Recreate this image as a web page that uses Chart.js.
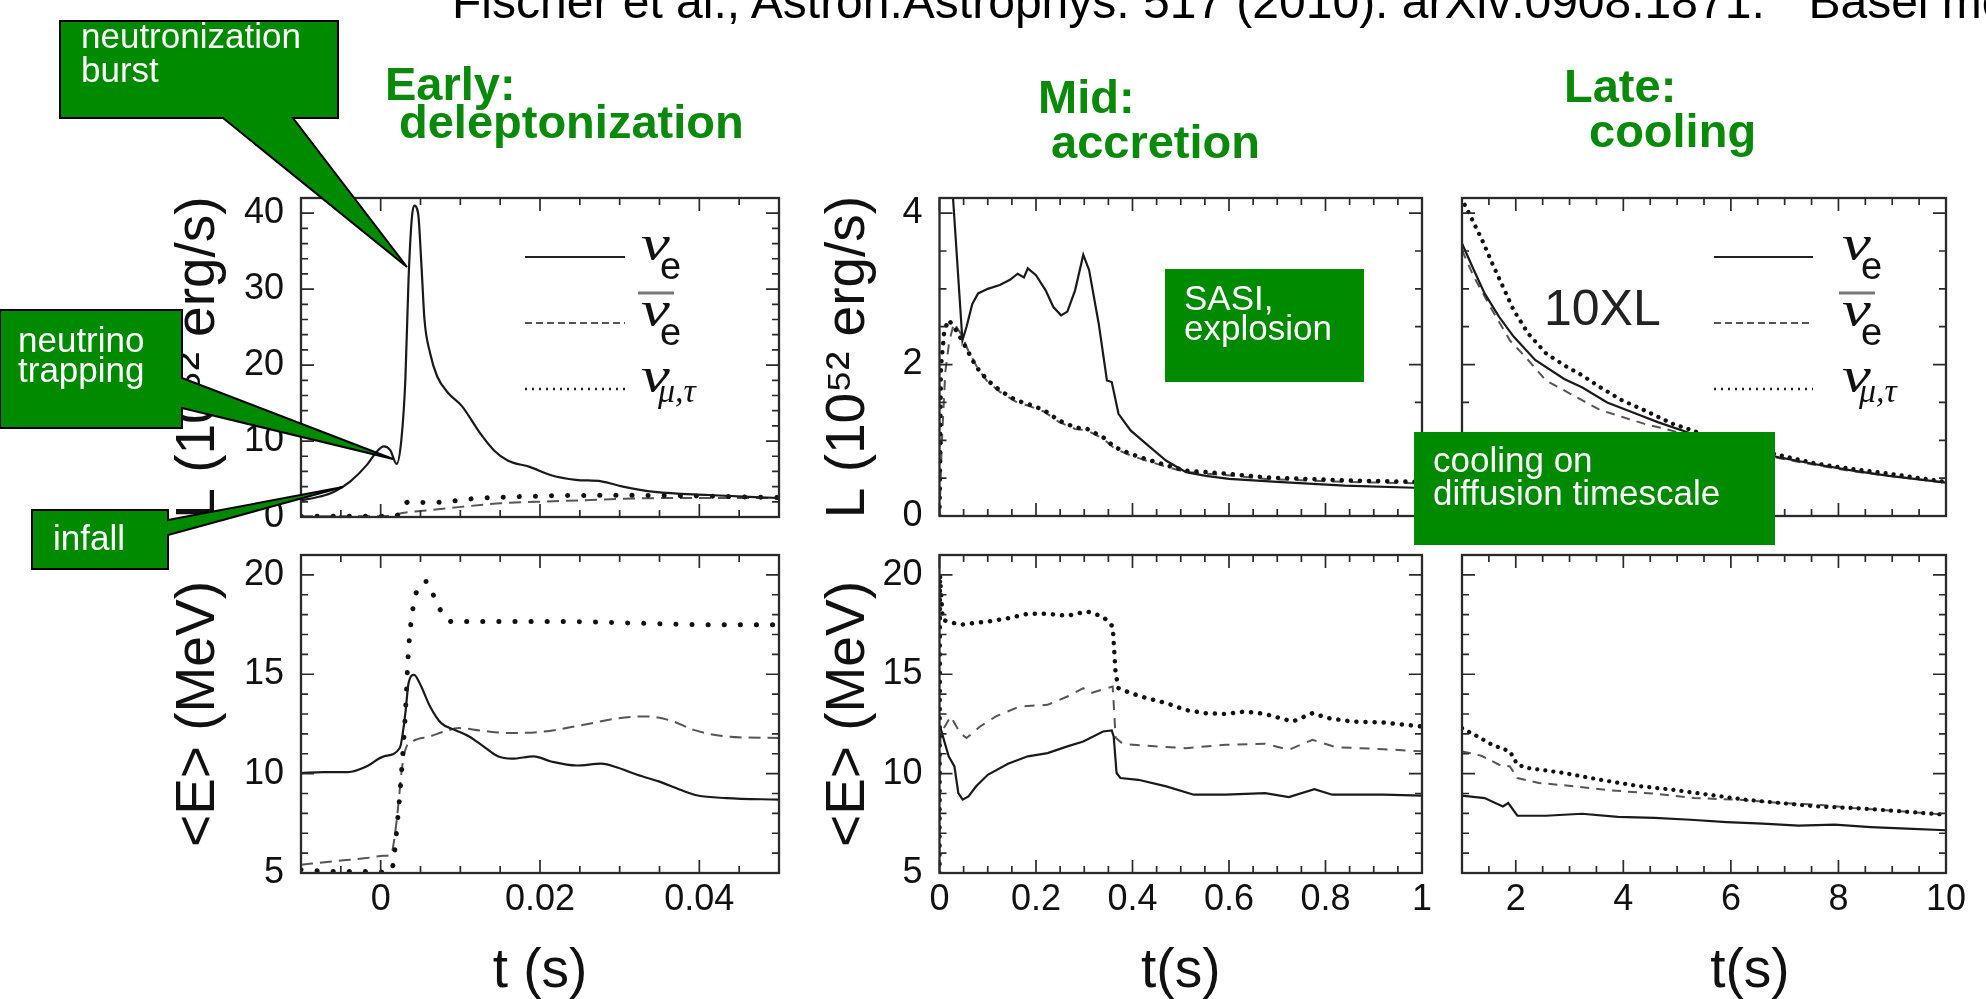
<!DOCTYPE html>
<html>
<head>
<meta charset="utf-8">
<script src="https://cdn.jsdelivr.net/npm/chart.js@4.4.1/dist/chart.umd.min.js"></script>
<style>
  html, body { margin: 0; padding: 0; background: #fff; }
  body { width: 1986px; height: 999px; position: relative; overflow: hidden; }
  canvas { position: absolute; }
  svg { position: absolute; left: 0; top: 0; z-index: 5; }
  .cw { font-family: "Liberation Sans", Arial, sans-serif; font-size: 35px; fill: #fff; }
  .gt { font-family: "Liberation Sans", Arial, sans-serif; font-size: 47px; font-weight: bold; fill: #0a8a0a; }
</style>
</head>
<body>
<canvas id="earlyL"></canvas>
<canvas id="earlyE"></canvas>
<canvas id="midL"></canvas>
<canvas id="midE"></canvas>
<canvas id="lateL"></canvas>
<canvas id="lateE"></canvas>

<svg width="1986" height="999" viewBox="0 0 1986 999">
  <text x="452" y="18" font-family="Liberation Sans, Arial, sans-serif" font-size="48" fill="#000">Fischer et al., Astron.Astrophys. 517 (2010). arXiv:0908.1871. &#160;"Basel model"</text>

  <text class="gt" x="385" y="100">Early:</text>
  <text class="gt" x="399" y="138">deleptonization</text>
  <text class="gt" x="1038" y="113">Mid:</text>
  <text class="gt" x="1051" y="158">accretion</text>
  <text class="gt" x="1564" y="102">Late:</text>
  <text class="gt" x="1589" y="147">cooling</text>

  <!-- callouts -->
  <polygon points="60,21 338,21 338,118 293,118 407,267 223,118 60,118" fill="#008a00" stroke="#000" stroke-width="2"/>
  <text class="cw" x="81" y="48">neutronization</text>
  <text class="cw" x="81" y="82">burst</text>

  <polygon points="0,310 182,310 182,378 393,459 182,408 182,428 0,428" fill="#008a00" stroke="#000" stroke-width="2"/>
  <text class="cw" x="18" y="352">neutrino</text>
  <text class="cw" x="18" y="382">trapping</text>

  <polygon points="32,510 168,510 168,520 343,487 168,535 168,569 32,569" fill="#008a00" stroke="#000" stroke-width="2"/>
  <text class="cw" x="53" y="550">infall</text>

  <rect x="1165" y="269" width="199" height="113" fill="#008a00"/>
  <text class="cw" x="1184" y="310">SASI,</text>
  <text class="cw" x="1184" y="340">explosion</text>

  <rect x="1414" y="432" width="361" height="113" fill="#008a00"/>
  <text class="cw" x="1433" y="472">cooling on</text>
  <text class="cw" x="1433" y="505">diffusion timescale</text>

  <text x="1544" y="325" font-family="Liberation Sans, Arial, sans-serif" font-size="50" fill="#222">10XL</text>
</svg>

<script>
var FONT = '"Liberation Sans", Arial, sans-serif';

// ---- tick labels ----
var earlyTimeTicks = [0, 0.02, 0.04];
var midTimeTicks = [0, 0.2, 0.4, 0.6, 0.8, 1];
var lateTimeTicks = [2, 4, 6, 8, 10];
var earlyLumTicks = [0, 10, 20, 30, 40];
var midLumTicks = [0, 2, 4];
var energyTicks = [5, 10, 15, 20];

// ---- values: [t (s), value] ----
// early phase, luminosity (10^52 erg/s)
var earlyL_nue = [[-0.01,2.2],[-0.0076,2.7],[-0.0059,3.3],[-0.0038,4.7],[-0.0017,6.9],[-0.0005,8.6],[0.0004,9.3],[0.0012,8.8],[0.002,7.0],[0.0026,10.2],[0.0031,18.1],[0.0035,31.3],[0.0039,39.2],[0.0042,41.0],[0.0047,40.0],[0.0051,33.5],[0.0055,26.0],[0.0062,21.6],[0.0071,18.5],[0.0085,16.3],[0.0102,14.6],[0.0125,11.0],[0.0142,8.8],[0.016,7.4],[0.0187,6.6],[0.0214,5.5],[0.0245,4.9],[0.0277,4.7],[0.0304,4.0],[0.0344,3.3],[0.0411,2.9],[0.05,2.5]];
var earlyL_nuebar = [[-0.01,0.1],[0.0,0.1],[0.0015,0.15],[0.0022,0.4],[0.004,0.7],[0.0062,0.9],[0.0098,1.3],[0.015,1.8],[0.0196,2.0],[0.0255,2.2],[0.032,2.45],[0.041,2.5],[0.05,2.5]];
var earlyL_numu = [[-0.01,0.1],[0.0015,0.1],[0.0025,0.6],[0.003,1.6],[0.0035,2.0],[0.0055,1.9],[0.008,2.0],[0.0098,2.2],[0.012,2.45],[0.015,2.6],[0.018,2.7],[0.022,2.8],[0.027,2.85],[0.032,2.85],[0.037,2.8],[0.043,2.7],[0.05,2.55]];

// early phase, mean energy (MeV)
var earlyE_nue = [[-0.01,10.03],[-0.0072,10.08],[-0.0041,10.08],[-0.0018,10.36],[0.0004,10.87],[0.0024,11.29],[0.0031,13.04],[0.0035,14.55],[0.0042,14.97],[0.0049,14.55],[0.0062,13.38],[0.0076,12.54],[0.0093,12.2],[0.0111,11.87],[0.0129,11.37],[0.0147,10.87],[0.0165,10.75],[0.0192,10.87],[0.0214,10.61],[0.0246,10.41],[0.0277,10.5],[0.0299,10.28],[0.0322,9.94],[0.0349,9.61],[0.0376,9.19],[0.0398,8.9],[0.0434,8.77],[0.05,8.69]];
var earlyE_nuebar = [[-0.01,5.42],[-0.0059,5.59],[-0.0018,5.75],[0.0004,5.87],[0.0013,5.92],[0.0017,6.68],[0.0022,8.35],[0.0026,10.03],[0.0031,11.2],[0.004,11.62],[0.0062,11.87],[0.008,12.12],[0.0098,12.29],[0.0125,12.17],[0.0161,12.04],[0.0205,12.12],[0.0255,12.46],[0.0299,12.79],[0.0335,12.88],[0.0367,12.63],[0.0393,12.2],[0.0434,11.87],[0.05,11.79]];
var earlyE_numu = [[-0.01,5.17],[-0.006,5.08],[-0.003,5.08],[0.0012,5.05],[0.0015,5.3],[0.0022,8.0],[0.0026,10.0],[0.0031,13.04],[0.0035,16.23],[0.0042,18.66],[0.005,19.5],[0.0058,19.67],[0.0067,18.91],[0.0076,18.16],[0.0089,17.65],[0.0143,17.65],[0.0232,17.65],[0.0322,17.57],[0.0411,17.49],[0.05,17.49]];

// accretion phase, luminosity
var midL_nue = [[0,20],[0.027,4.3],[0.0475,2.32],[0.056,2.5],[0.068,2.8],[0.08,2.94],[0.1,3.0],[0.125,3.05],[0.146,3.12],[0.162,3.2],[0.175,3.15],[0.183,3.27],[0.2,3.18],[0.22,2.98],[0.236,2.76],[0.252,2.65],[0.265,2.7],[0.281,2.98],[0.298,3.45],[0.31,3.25],[0.33,2.54],[0.347,1.79],[0.357,1.77],[0.371,1.35],[0.396,1.13],[0.429,0.95],[0.47,0.73],[0.511,0.58],[0.552,0.53],[0.6,0.49],[0.7,0.45],[0.84,0.4],[1.0,0.37]];
var midL_nuebar = [[0,0],[0.005,1.0],[0.012,1.9],[0.02,2.3],[0.03,2.55],[0.045,2.4],[0.06,2.18],[0.08,1.94],[0.1,1.77],[0.125,1.64],[0.158,1.51],[0.183,1.46],[0.216,1.38],[0.248,1.24],[0.281,1.15],[0.306,1.13],[0.339,1.02],[0.363,0.89],[0.396,0.8],[0.429,0.73],[0.47,0.65],[0.51,0.58],[0.593,0.54],[0.675,0.49],[0.757,0.47],[0.839,0.45],[1.0,0.43]];
var midL_numu = [[0,0],[0.003,1.97],[0.01,2.45],[0.019,2.59],[0.035,2.45],[0.056,2.21],[0.076,1.97],[0.1,1.79],[0.125,1.66],[0.158,1.53],[0.183,1.48],[0.216,1.4],[0.248,1.26],[0.281,1.17],[0.306,1.15],[0.339,1.04],[0.363,0.91],[0.396,0.82],[0.429,0.75],[0.47,0.67],[0.51,0.6],[0.593,0.56],[0.675,0.51],[0.757,0.49],[0.839,0.47],[1.0,0.45]];

// accretion phase, mean energy
var midE_nue = [[0.002,12.3],[0.019,10.87],[0.031,10.36],[0.039,9.02],[0.048,8.69],[0.06,8.85],[0.076,9.36],[0.1,9.94],[0.142,10.5],[0.183,10.87],[0.224,11.03],[0.265,11.37],[0.298,11.62],[0.339,12.12],[0.357,12.17],[0.361,11.87],[0.367,10.03],[0.375,9.78],[0.412,9.69],[0.47,9.36],[0.527,8.94],[0.593,8.94],[0.675,9.02],[0.724,8.82],[0.777,9.22],[0.814,8.94],[0.92,8.94],[1.0,8.89]];
var midE_nuebar = [[0,6.0],[0.002,12.0],[0.011,12.37],[0.023,12.88],[0.043,12.04],[0.056,11.79],[0.084,12.37],[0.117,12.88],[0.166,13.38],[0.224,13.46],[0.265,13.88],[0.298,14.3],[0.314,14.05],[0.347,14.3],[0.359,14.38],[0.365,11.8],[0.38,11.5],[0.429,11.4],[0.51,11.28],[0.593,11.45],[0.675,11.5],[0.724,11.2],[0.773,11.7],[0.822,11.33],[0.92,11.23],[1.0,11.12]];
var midE_numu = [[0,5.0],[0.001,20.0],[0.0066,17.74],[0.019,17.65],[0.043,17.49],[0.068,17.57],[0.1,17.65],[0.142,17.82],[0.183,18.04],[0.224,18.04],[0.265,17.94],[0.306,18.16],[0.339,17.9],[0.359,17.4],[0.365,15.06],[0.371,14.3],[0.396,14.05],[0.429,13.8],[0.47,13.55],[0.51,13.2],[0.552,13.04],[0.593,13.0],[0.634,13.13],[0.675,13.0],[0.732,12.62],[0.773,13.04],[0.806,12.79],[0.855,12.62],[0.92,12.57],[1.0,12.37]];

// cooling phase, 10 x luminosity
var lateL_nue = [[1.0,3.6],[1.22,3.25],[1.42,2.94],[1.69,2.63],[1.96,2.37],[2.36,2.06],[2.9,1.81],[3.23,1.7],[3.7,1.5],[4.24,1.35],[4.64,1.24],[5.3,1.08],[6.1,0.9],[6.93,0.77],[7.3,0.72],[7.6,0.68],[8.27,0.6],[8.94,0.53],[10,0.44]];
var lateL_nuebar = [[1.0,3.51],[1.22,3.16],[1.56,2.72],[1.89,2.32],[2.23,2.06],[2.56,1.79],[2.9,1.66],[3.23,1.53],[3.57,1.4],[3.97,1.31],[4.38,1.22],[4.78,1.15],[5.4,1.03],[6.1,0.88],[6.93,0.76],[7.6,0.67],[8.27,0.59],[8.94,0.53],[10,0.44]];
var lateL_numu = [[1.05,4.11],[1.22,3.87],[1.39,3.62],[1.56,3.34],[1.76,3.03],[1.96,2.72],[2.23,2.41],[2.56,2.15],[2.9,1.99],[3.23,1.86],[3.57,1.7],[3.97,1.53],[4.38,1.4],[4.91,1.22],[5.45,1.09],[6.2,0.93],[6.93,0.8],[7.6,0.69],[8.27,0.62],[8.94,0.56],[10,0.45]];

// cooling phase, mean energy
var lateE_nue = [[1.0,8.89],[1.42,8.77],[1.76,8.35],[1.86,8.52],[2.03,7.88],[2.56,7.88],[3.23,7.98],[3.9,7.82],[4.58,7.77],[5.25,7.68],[5.92,7.56],[6.59,7.48],[7.26,7.38],[7.93,7.43],[8.6,7.31],[9.27,7.23],[10,7.15]];
var lateE_nuebar = [[1.0,11.12],[1.36,10.9],[1.69,10.45],[1.89,10.36],[2.03,9.78],[2.43,9.53],[3.1,9.36],[3.77,9.16],[4.58,8.99],[5.32,8.77],[6.12,8.69],[6.93,8.52],[7.6,8.44],[8.27,8.27],[8.94,8.15],[10,7.93]];
var lateE_numu = [[1.0,12.29],[1.29,11.87],[1.56,11.45],[1.89,11.12],[2.03,10.45],[2.23,10.28],[2.9,10.03],[3.57,9.69],[4.24,9.39],[4.91,9.19],[5.58,8.94],[6.26,8.69],[6.93,8.52],[7.6,8.35],[8.27,8.27],[8.94,8.15],[10,7.93]];

var lumTitle = 'L (10\u2075\u00b2 erg/s)';
var energyTitle = '<E> (MeV)';

function pts(arr) {
    return arr.map(function(p) { return {x: p[0], y: p[1]}; });
}

function lineSets(nue, nuebar, numu, st) {
    var common = {pointRadius: 0, fill: false, tension: st.smooth ? 0.4 : 0,
                  cubicInterpolationMode: st.smooth ? 'monotone' : 'default'};
    return [
        Object.assign({data: pts(numu), borderColor: '#111', borderWidth: st.dotW,
                       borderDash: [0.1, st.dotGap], borderCapStyle: 'round', order: 1}, common),
        Object.assign({data: pts(nuebar), borderColor: '#555', borderWidth: 2,
                       borderDash: st.dash, order: 2}, common),
        Object.assign({data: pts(nue), borderColor: '#1a1a1a', borderWidth: 2.2, order: 0}, common)
    ];
}

// frame with inward major/minor ticks on all four sides, plus the nu legend
function makeFrame(cfg) {
    return {
        id: 'frame',
        afterDraw: function(chart) {
            var ctx = chart.ctx, a = chart.chartArea, sx = chart.scales.x, sy = chart.scales.y;
            function each(scale, step, fn) {
                var n0 = Math.ceil(scale.min / step - 1e-6), n1 = Math.floor(scale.max / step + 1e-6);
                for (var n = n0; n <= n1; n++) fn(scale.getPixelForValue(n * step));
            }
            ctx.save();
            ctx.strokeStyle = '#2a2a2a';
            ctx.lineWidth = 1.7;
            ctx.beginPath();
            each(sx, cfg.xMinor, function(px) {
                ctx.moveTo(px, a.bottom); ctx.lineTo(px, a.bottom - 7);
                ctx.moveTo(px, a.top); ctx.lineTo(px, a.top + 7);
            });
            cfg.xMajor.forEach(function(v) {
                var px = sx.getPixelForValue(v);
                ctx.moveTo(px, a.bottom); ctx.lineTo(px, a.bottom - 13);
                ctx.moveTo(px, a.top); ctx.lineTo(px, a.top + 13);
            });
            each(sy, cfg.yMinor, function(py) {
                ctx.moveTo(a.left, py); ctx.lineTo(a.left + 7, py);
                ctx.moveTo(a.right, py); ctx.lineTo(a.right - 7, py);
            });
            cfg.yMajor.forEach(function(v) {
                var py = sy.getPixelForValue(v);
                ctx.moveTo(a.left, py); ctx.lineTo(a.left + 13, py);
                ctx.moveTo(a.right, py); ctx.lineTo(a.right - 13, py);
            });
            ctx.stroke();
            ctx.lineWidth = 2.3;
            ctx.strokeRect(a.left, a.top, a.right - a.left, a.bottom - a.top);
            if (cfg.legend) drawNuLegend(ctx, a, cfg.legend);
            ctx.restore();
        }
    };
}

function drawNuLegend(ctx, a, lg) {
    var styles = [
        {w: 2, dash: [], col: '#222'},
        {w: 2, dash: [7, 4], col: '#555'},
        {w: 2.4, dash: [2, 5], col: '#222'}
    ];
    lg.rows.forEach(function(row, i) {
        var y = a.top + row, xt = a.left + lg.xt;
        ctx.strokeStyle = styles[i].col;
        ctx.lineWidth = styles[i].w;
        ctx.setLineDash(styles[i].dash);
        ctx.beginPath();
        ctx.moveTo(a.left + lg.x0, y);
        ctx.lineTo(a.left + lg.x1, y);
        ctx.stroke();
        ctx.setLineDash([]);
        ctx.fillStyle = '#111';
        ctx.textAlign = 'left';
        ctx.textBaseline = 'alphabetic';
        ctx.save();
        ctx.translate(xt, y + 3);
        ctx.scale(1.3, 1);
        ctx.font = 'italic 50px "Liberation Serif"';
        ctx.fillText('\u03bd', 0, 0);
        ctx.restore();
        if (i < 2) {
            ctx.font = '38px ' + FONT;
            ctx.fillText('e', xt + 19, y + 22);
        } else {
            ctx.font = 'italic 34px "Liberation Serif"';
            ctx.fillText('\u03bc,\u03c4', xt + 17, y + 13);
        }
        if (i === 1) {
            ctx.strokeStyle = '#777';
            ctx.lineWidth = 3;
            ctx.beginPath();
            ctx.moveTo(xt - 3, y - 30);
            ctx.lineTo(xt + 33, y - 30);
            ctx.stroke();
        }
    });
}

function makeChart(p) {
    var el = document.getElementById(p.id);
    var left = p.plot[0] - (p.yw || 10);
    var top = p.plot[1] - 40;
    var w = (p.yw || 10) + (p.plot[2] - p.plot[0]) + 30;
    var h = 40 + (p.plot[3] - p.plot[1]) + (p.xh || 40);
    el.width = w; el.height = h;
    el.style.left = left + 'px'; el.style.top = top + 'px';
    el.style.width = w + 'px'; el.style.height = h + 'px';

    function fixTicks(list) {
        return function(s) { s.ticks = list.map(function(v) { return {value: v}; }); };
    }
    var xs = {
        type: 'linear', min: p.x[0], max: p.x[1], display: !!p.xh,
        afterBuildTicks: fixTicks(p.xTicks),
        grid: {display: false, drawTicks: false}, border: {display: false},
        ticks: {autoSkip: false, maxRotation: 0, padding: 5, color: '#111', font: {family: FONT, size: 36},
                callback: function(v) { return String(+v.toFixed(3)); }},
        title: {display: !!p.xTitle, text: p.xTitle, color: '#111', padding: 0,
                font: {family: FONT, size: 55, lineHeight: 1}}
    };
    if (p.xh) xs.afterFit = function(s) { s.height = p.xh; };
    var ys = {
        type: 'linear', min: p.y[0], max: p.y[1], display: !!p.yw,
        afterBuildTicks: fixTicks(p.yTicks),
        grid: {display: false, drawTicks: false}, border: {display: false},
        ticks: {autoSkip: false, padding: 17, color: '#111', font: {family: FONT, size: 36},
                callback: function(v) { return String(+v.toFixed(3)); }},
        title: {display: !!p.yTitle, text: p.yTitle, color: '#111', padding: 0,
                font: {family: FONT, size: 55, lineHeight: 1}}
    };
    if (p.yw) ys.afterFit = function(s) { s.width = p.yw; };

    return new Chart(el.getContext('2d'), {
        type: 'line',
        data: {datasets: lineSets(p.data[0], p.data[1], p.data[2], p.style)},
        options: {
            responsive: false, animation: false, events: [],
            layout: {padding: {left: p.yw ? 0 : 10, top: 40, right: 30, bottom: p.xh ? 0 : 40}},
            scales: {x: xs, y: ys},
            plugins: {legend: {display: false}, tooltip: {enabled: false}}
        },
        plugins: [makeFrame({xMinor: p.minor[0], xMajor: p.xTicks, yMinor: p.minor[1], yMajor: p.yTicks, legend: p.legend})]
    });
}

var earlyStyle = {smooth: true, dotW: 5, dotGap: 16, dash: [12, 7]};
var midStyle = {smooth: false, dotW: 4.5, dotGap: 9, dash: [10, 8]};
var lateStyle = {smooth: false, dotW: 4.2, dotGap: 8, dash: [9, 7]};

makeChart({id: 'earlyL', plot: [301, 198, 779, 517], yw: 130, x: [-0.01, 0.05], y: [0, 42],
    xTicks: earlyTimeTicks, yTicks: earlyLumTicks,
    minor: [0.005, 2], yTitle: lumTitle, data: [earlyL_nue, earlyL_nuebar, earlyL_numu], style: earlyStyle,
    legend: {x0: 224, x1: 324, xt: 340, rows: [59, 125, 191]}});
makeChart({id: 'earlyE', plot: [301, 555, 779, 873], yw: 130, xh: 126, x: [-0.01, 0.05], y: [5, 21],
    xTicks: earlyTimeTicks, yTicks: energyTicks,
    minor: [0.005, 1], yTitle: energyTitle, xTitle: 't (s)', data: [earlyE_nue, earlyE_nuebar, earlyE_numu], style: earlyStyle});
makeChart({id: 'midL', plot: [939.5, 198, 1422, 516], yw: 118.5, x: [0, 1], y: [0, 4.2],
    xTicks: midTimeTicks, yTicks: midLumTicks,
    minor: [0.05, 0.5], yTitle: lumTitle, data: [midL_nue, midL_nuebar, midL_numu], style: midStyle});
makeChart({id: 'midE', plot: [939.5, 555, 1422, 873], yw: 118.5, xh: 126, x: [0, 1], y: [5, 21],
    xTicks: midTimeTicks, yTicks: energyTicks,
    minor: [0.05, 1], yTitle: energyTitle, xTitle: 't(s)', data: [midE_nue, midE_nuebar, midE_numu], style: midStyle});
makeChart({id: 'lateL', plot: [1462, 198, 1946, 516], x: [1, 10], y: [0, 4.2],
    xTicks: lateTimeTicks, yTicks: midLumTicks,
    minor: [0.5, 0.5], data: [lateL_nue, lateL_nuebar, lateL_numu], style: lateStyle,
    legend: {x0: 252, x1: 351, xt: 380, rows: [59, 125, 191]}});
makeChart({id: 'lateE', plot: [1462, 555, 1946, 873], xh: 126, x: [1, 10], y: [5, 21],
    xTicks: lateTimeTicks, yTicks: energyTicks,
    minor: [0.5, 1], xTitle: '      t(s)', data: [lateE_nue, lateE_nuebar, lateE_numu], style: lateStyle});
</script>
</body>
</html>
